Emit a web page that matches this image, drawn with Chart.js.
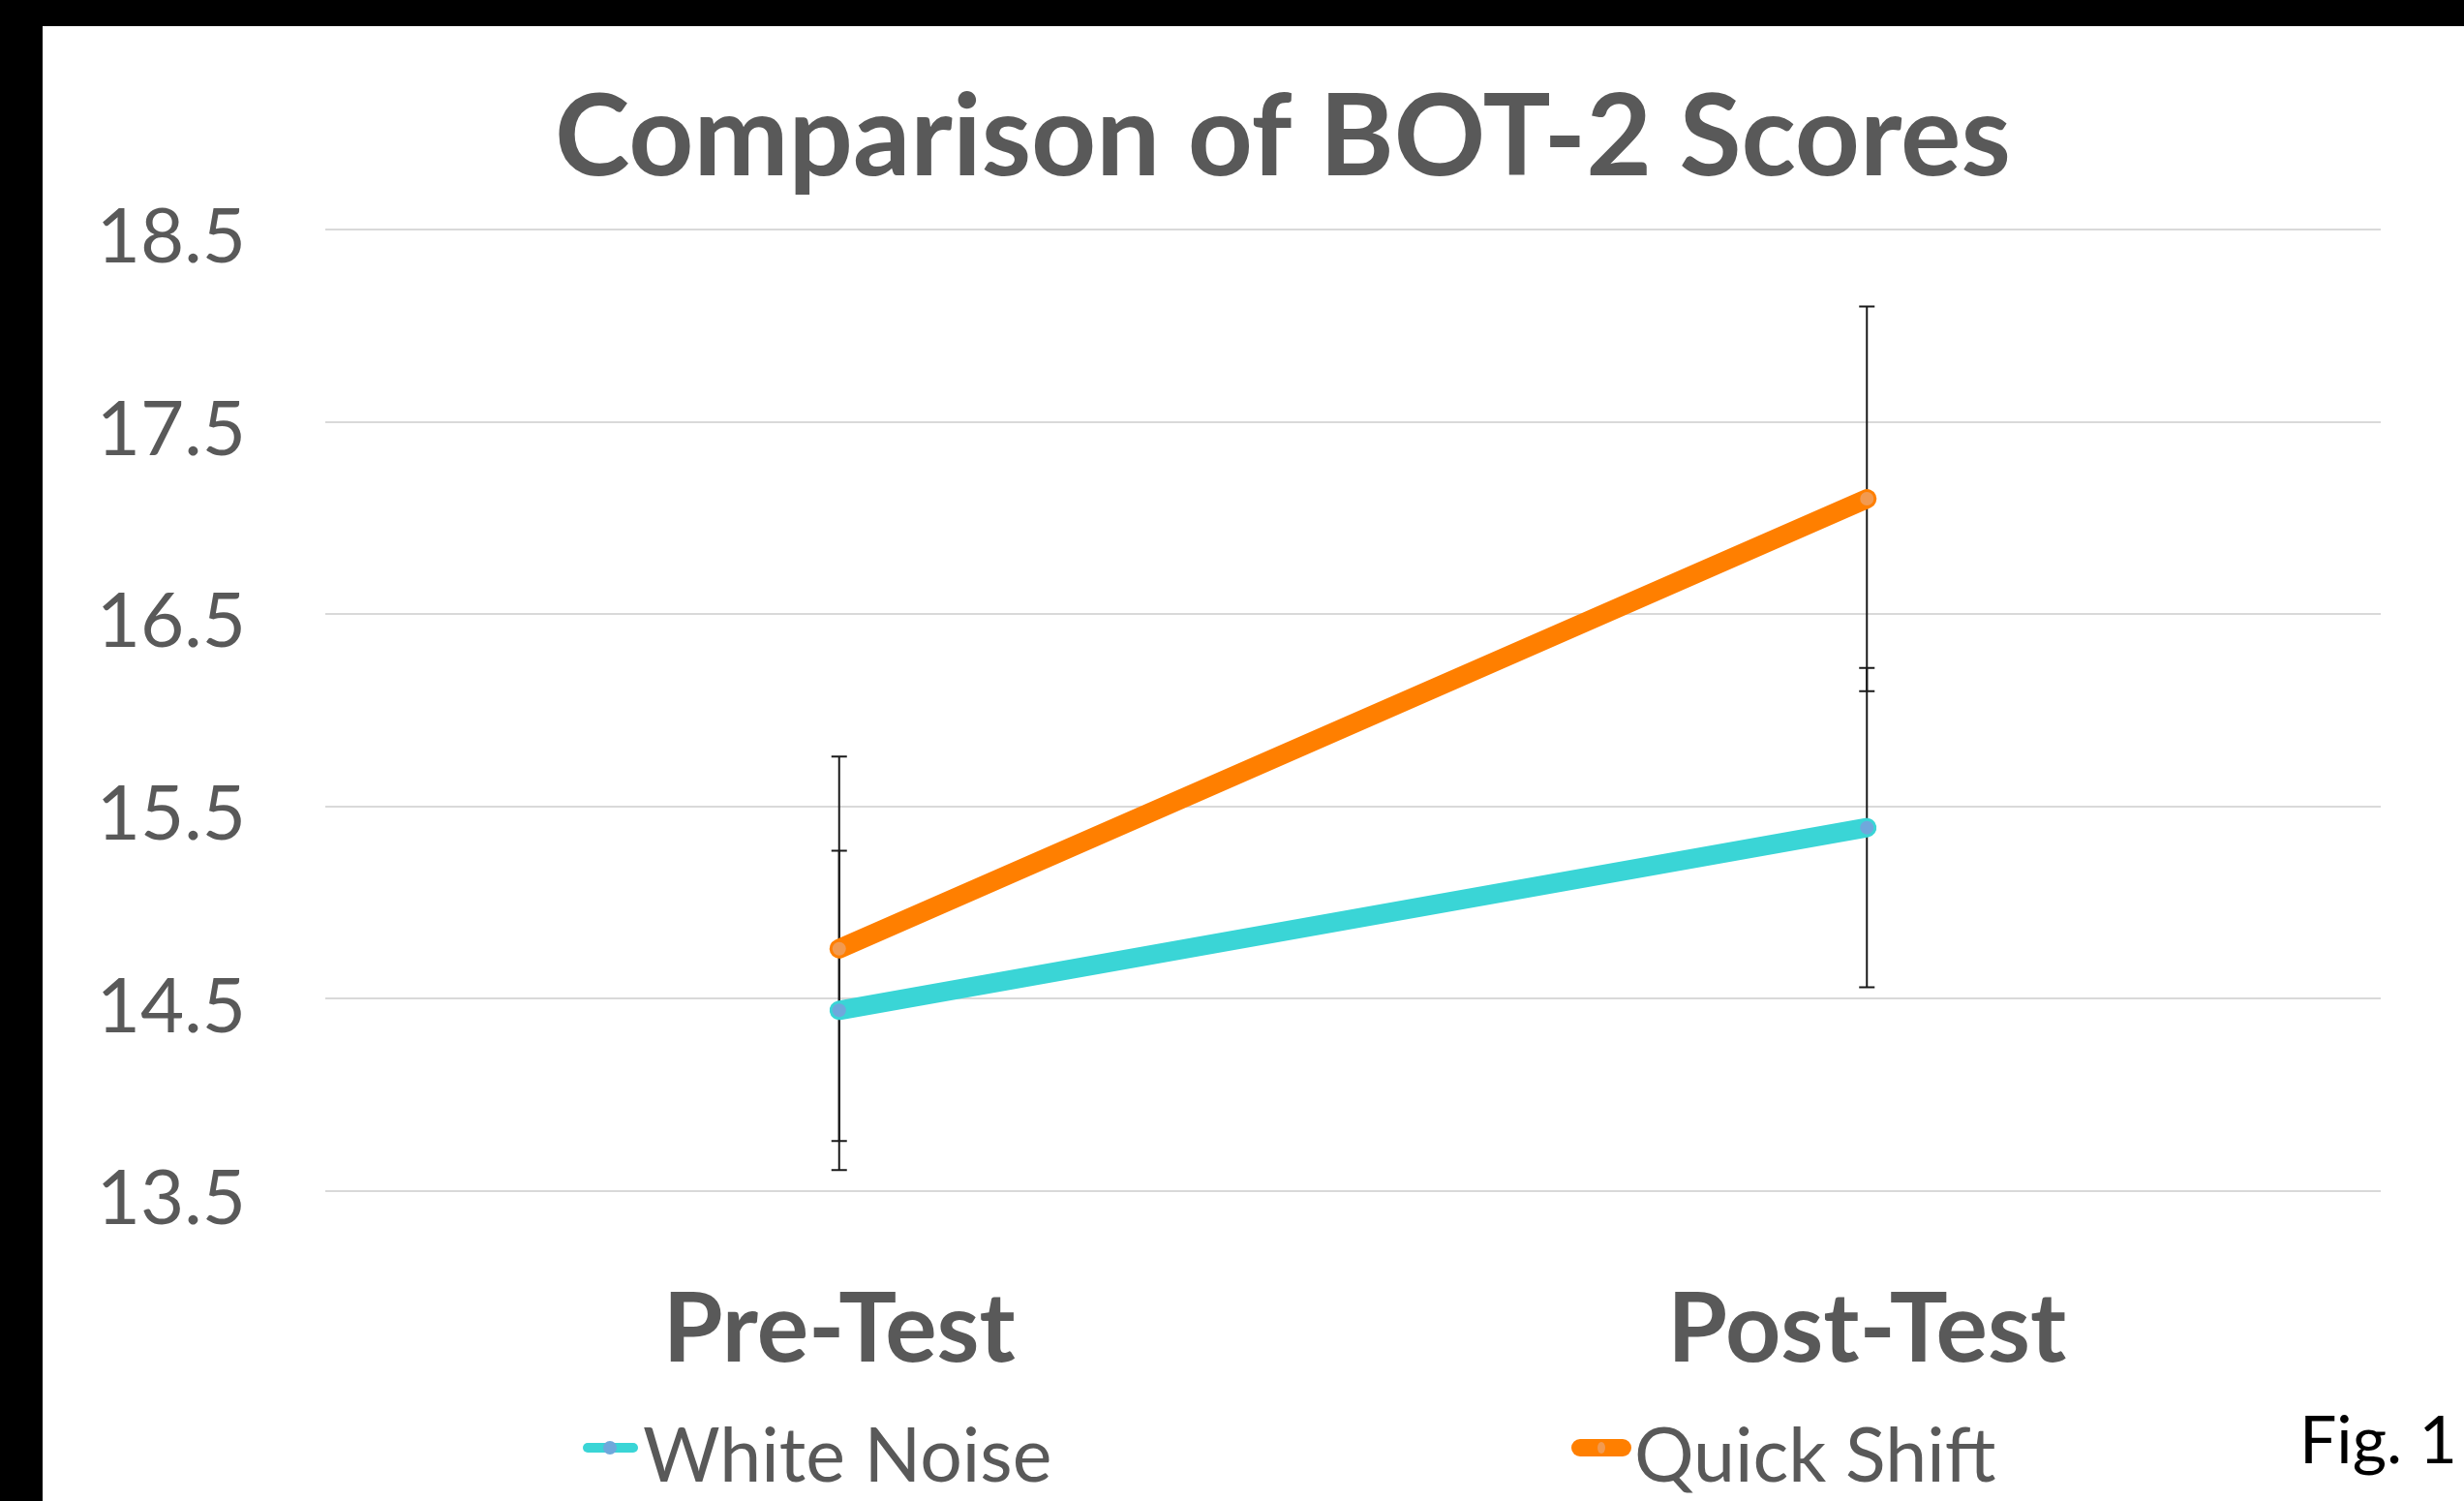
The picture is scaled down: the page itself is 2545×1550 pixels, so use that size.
<!DOCTYPE html>
<html>
<head>
<meta charset="utf-8">
<script src="https://cdn.jsdelivr.net/npm/chart.js@4"></script>
<style>
  html, body { margin: 0; padding: 0; background: #000; }
  #wrap { position: absolute; left: 44px; top: 27px; width: 2501px; height: 1523px; background: #fff; }
</style>
</head>
<body>
<div id="wrap"><canvas id="grafico"></canvas></div>
<script>
/* dados */
const categorias = ["Pre-Test", "Post-Test"];
const whiteNoise = [14.44, 15.39];
const whiteNoiseErr = [0.83, 0.83];
const quickShift = [14.76, 17.10];
const quickShiftErr = [1.0, 1.0];
const yTicks = [13.5, 14.5, 15.5, 16.5, 17.5, 18.5];
const titulo = "Comparison of BOT-2 Scores";

const cinza = "#595959";

// barras de erro desenhadas pelas escalas
const errorBars = {
  id: "errorBars",
  beforeDatasetsDraw(chart) {
    const ctx = chart.ctx;
    const x = chart.scales.x, y = chart.scales.y;
    const sets = [[whiteNoise, whiteNoiseErr], [quickShift, quickShiftErr]];
    ctx.save();
    ctx.strokeStyle = "#1a1a1a";
    ctx.lineWidth = 2;
    sets.forEach(([vals, errs]) => {
      vals.forEach((v, i) => {
        const px = x.getPixelForValue(i);
        const top = y.getPixelForValue(v + errs[i]);
        const bot = y.getPixelForValue(v - errs[i]);
        ctx.beginPath();
        ctx.moveTo(px, top); ctx.lineTo(px, bot);
        ctx.moveTo(px - 8, top); ctx.lineTo(px + 8, top);
        ctx.moveTo(px - 8, bot); ctx.lineTo(px + 8, bot);
        ctx.stroke();
      });
    });
    ctx.restore();
  }
};

// titulo, legenda e "Fig. 1"
const extras = {
  id: "extras",
  afterDraw(chart) {
    const ctx = chart.ctx;
    ctx.save();
    ctx.fillStyle = cinza;
    ctx.textAlign = "center";
    ctx.textBaseline = "middle";
    ctx.font = "bold 117px Lato";
    ctx.fillText(titulo, 1281, 116);

    const yc = 1468;
    ctx.textAlign = "left";
    ctx.lineCap = "round";
    // White Noise
    ctx.strokeStyle = "#3AD5D6"; ctx.lineWidth = 10;
    ctx.beginPath(); ctx.moveTo(563, yc); ctx.lineTo(610, yc); ctx.stroke();
    ctx.fillStyle = "#6FA8DC";
    ctx.beginPath(); ctx.arc(586, yc, 7, 0, Math.PI * 2); ctx.fill();
    // Quick Shift
    ctx.strokeStyle = "#FF7F00"; ctx.lineWidth = 18;
    ctx.beginPath(); ctx.moveTo(1588, yc); ctx.lineTo(1632, yc); ctx.stroke();
    ctx.fillStyle = "#F29A50";
    ctx.beginPath(); ctx.ellipse(1610, yc, 4, 6, 0, 0, Math.PI * 2); ctx.fill();

    ctx.font = "77px Lato";
    ctx.fillStyle = cinza;
    ctx.fillText("White Noise", 620, yc + 10);
    ctx.fillText("Quick Shift", 1644, yc + 10);
    ctx.fillStyle = "#000";
    ctx.font = "68px Lato";
    ctx.fillText("Fig. 1", 2331, yc - 6);
    ctx.restore();
  }
};

const ctx = document.getElementById("grafico").getContext("2d");
new Chart(ctx, {
  type: "line",
  data: {
    labels: categorias,
    datasets: [
      {
        label: "White Noise",
        data: whiteNoise,
        borderColor: "#3AD5D6",
        backgroundColor: "#3AD5D6",
        borderWidth: 20,
        borderCapStyle: "round",
        pointRadius: 7,
        pointBorderWidth: 0,
        pointBackgroundColor: "#6FA8DC",
        tension: 0
      },
      {
        label: "Quick Shift",
        data: quickShift,
        borderColor: "#FF7F00",
        backgroundColor: "#FF7F00",
        borderWidth: 20,
        borderCapStyle: "round",
        pointRadius: 7,
        pointBorderWidth: 0,
        pointBackgroundColor: "#F29A50",
        tension: 0
      }
    ]
  },
  options: {
    responsive: true,
    maintainAspectRatio: false,
    animation: false,
    layout: { padding: { left: 0, right: 86, top: 210, bottom: 0 } },
    plugins: {
      legend: { display: false },
      tooltip: { enabled: false },
      title: { display: false }
    },
    scales: {
      x: {
        offset: true,
        grid: { display: false, drawTicks: false },
        border: { display: false },
        ticks: {
          color: cinza,
          font: { family: "Lato", size: 100, weight: "bold" },
          padding: 84
        },
        afterFit(scale) { scale.height = 320; }
      },
      y: {
        min: 13.5,
        max: 18.5,
        afterBuildTicks(scale) { scale.ticks = yTicks.map(v => ({ value: v })); },
        grid: { color: "#d9d9d9", lineWidth: 2, drawTicks: false },
        border: { display: false },
        ticks: {
          color: cinza,
          font: { family: "Lato", size: 78 },
          padding: 82,
          labelOffset: 9,
          callback: v => v.toFixed(1)
        },
        afterFit(scale) { scale.width = 292; }
      }
    }
  },
  plugins: [errorBars, extras]
});
</script>
</body>
</html>
